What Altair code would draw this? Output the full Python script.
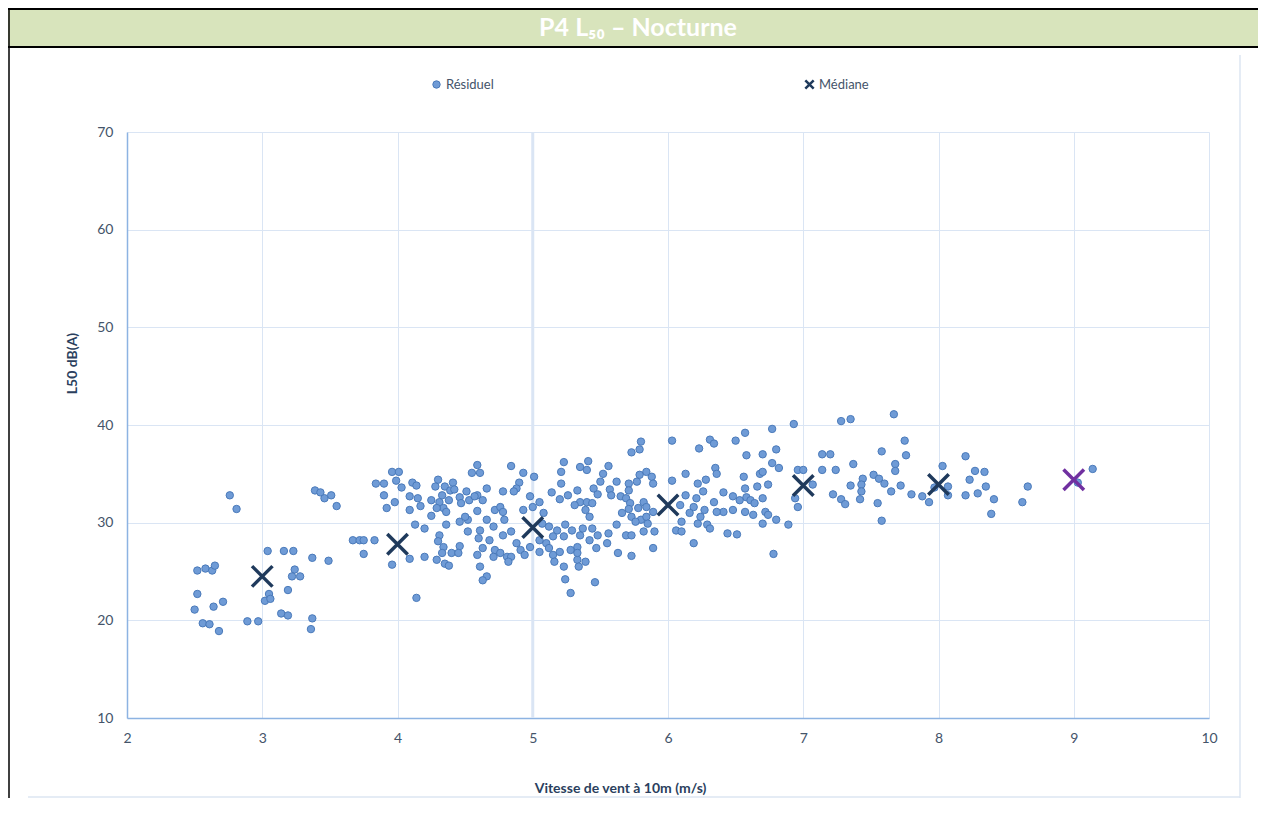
import altair as alt
import pandas as pd

title_text = "P4 L₅₀ – Nocturne"
x_title = "Vitesse de vent à 10m (m/s)"
y_title = "L50 dB(A)"
series_names = ["Résiduel", "Médiane"]
x_ticks = [2, 3, 4, 5, 6, 7, 8, 9, 10]
y_ticks = [10, 20, 30, 40, 50, 60, 70]
bold_grid_x = [5]

res_x = [
    2.76, 2.81, 3.39, 3.43, 3.46, 3.51, 3.55, 3.84, 3.67, 3.72, 3.75, 3.83, 3.75, 3.04, 3.16, 3.23, 3.37, 3.49,
    2.52, 2.58, 2.63, 2.65, 3.24, 3.22, 3.28, 3.19, 3.05, 3.02, 3.06, 2.52, 2.50, 2.64, 2.71, 2.56, 2.61, 2.68,
    2.89, 2.97, 3.14, 3.19, 3.37, 3.36,
    4.59, 4.55, 4.61, 4.84, 3.96, 4.01, 3.99, 3.90, 4.03, 4.11, 4.14, 4.30, 4.28, 4.35, 4.41, 4.39, 4.42, 4.90,
    4.88, 4.86, 4.78, 4.66, 4.59, 4.51, 4.46, 4.53, 4.57, 4.63, 3.90, 3.98, 3.92, 4.09, 4.15, 4.17, 4.09, 4.25,
    4.31, 4.34, 4.38, 4.36, 4.33, 4.29, 4.25, 4.47, 4.59, 4.46, 4.52, 4.50, 4.36, 4.13, 4.20, 4.31, 4.30, 4.34,
    4.33, 4.40, 4.46, 4.45, 4.29, 4.35, 4.38, 4.52, 4.61, 4.60, 4.66, 4.68, 4.63, 4.59, 4.61, 4.66, 4.63, 4.71,
    4.72, 4.76, 4.79, 4.78, 4.72, 4.76, 4.71, 4.81, 4.84, 4.82, 4.78, 4.84, 4.88, 4.91, 3.96, 4.09, 4.20, 4.14,
    6.03, 5.80, 5.79, 5.73, 5.23, 5.41, 5.35, 5.40, 5.56, 5.21, 6.03, 5.84, 5.88, 5.79, 5.89, 5.77, 5.71, 5.62,
    5.52, 5.50, 5.57, 5.45, 5.48, 4.93, 5.01, 5.14, 5.26, 5.20, 5.33, 5.35, 5.40, 5.44, 5.39, 5.31, 5.42, 5.58,
    5.65, 5.71, 5.69, 5.72, 5.66, 5.71, 5.73, 5.78, 5.82, 5.84, 5.80, 5.76, 5.84, 5.89, 5.85, 5.82, 5.90, 5.89,
    5.69, 5.73, 5.62, 5.56, 5.55, 5.48, 5.47, 5.42, 5.35, 5.37, 5.44, 5.29, 5.24, 5.23, 5.18, 5.15, 5.12, 5.10,
    5.12, 5.05, 5.05, 4.98, 4.94, 5.15, 5.16, 5.33, 5.33, 5.39, 5.23, 5.34, 5.24, 5.28, 5.46, 5.63, 5.73, 6.06,
    4.98, 5.05, 5.00, 4.93, 5.08, 5.07, 5.21, 5.20, 5.28, 5.33, 6.09,
    6.93, 7.28, 7.35, 6.77, 6.57, 6.50, 6.31, 6.34, 6.23, 6.80, 6.58, 6.70, 6.77, 6.82, 7.14, 7.20, 7.37, 6.35,
    6.36, 6.13, 6.56, 6.68, 6.70, 6.28, 6.22, 6.96, 7.00, 7.14, 7.24, 6.74, 6.66, 6.57, 6.41, 6.48, 6.26, 6.13,
    6.21, 6.34, 6.53, 6.58, 6.61, 6.70, 6.64, 6.48, 6.41, 6.36, 6.27, 6.19, 6.16, 6.24, 6.10, 6.22, 6.29, 6.31,
    6.10, 6.57, 6.63, 6.72, 6.74, 6.70, 6.80, 6.89, 6.44, 6.51, 6.19, 6.78, 6.94, 6.96, 7.07, 7.22, 7.28, 7.31,
    7.35,
    7.67, 7.75, 7.58, 7.76, 7.68, 7.68, 7.52, 7.56, 7.60, 7.44, 7.43, 7.43, 7.42, 7.72, 7.65, 7.80, 7.55, 7.58,
    7.88, 7.93, 7.97, 8.03, 8.07, 8.07, 8.20, 8.27, 8.34, 8.23, 8.35, 8.29, 8.20, 8.41, 8.39, 8.66, 8.62, 9.03,
    9.14,
]
res_y = [
    32.8, 31.4, 33.3, 33.1, 32.5, 32.8, 31.7, 34.0, 28.2, 28.2, 28.2, 28.2, 26.8, 27.1, 27.1, 27.1, 26.4, 26.1,
    25.1, 25.3, 25.1, 25.6, 25.2, 24.5, 24.5, 23.1, 22.7, 22.0, 22.2, 22.7, 21.1, 21.4, 21.9, 19.7, 19.6, 18.9,
    19.9, 19.9, 20.7, 20.5, 20.2, 19.1,
    35.9, 35.1, 35.1, 35.8, 35.2, 35.2, 34.3, 34.0, 33.6, 34.1, 33.8, 34.4, 33.7, 33.7, 34.1, 33.3, 33.4, 34.1,
    33.5, 33.2, 33.2, 33.5, 32.8, 33.2, 32.6, 32.3, 32.7, 32.3, 32.8, 32.1, 31.5, 32.7, 32.5, 31.7, 31.3, 32.3,
    32.1, 31.5, 32.3, 31.1, 32.8, 31.5, 30.7, 32.0, 31.2, 30.1, 30.3, 30.6, 29.8, 29.8, 29.4, 28.7, 28.1, 27.5,
    26.9, 26.9, 27.6, 26.9, 26.2, 25.8, 25.6, 29.1, 29.2, 28.4, 30.3, 28.2, 27.4, 26.7, 25.5, 24.5, 24.1, 29.6,
    31.3, 31.6, 30.3, 31.1, 27.2, 26.9, 26.5, 26.5, 26.5, 26.0, 28.7, 29.1, 27.9, 27.2, 25.7, 26.3, 26.5, 22.3,
    38.4, 38.3, 37.5, 37.2, 36.2, 36.3, 35.7, 35.4, 35.8, 35.2, 34.3, 35.2, 34.7, 34.9, 34.0, 34.2, 34.0, 34.2,
    35.0, 34.2, 33.4, 33.5, 32.9, 35.1, 34.7, 33.1, 32.8, 32.4, 33.3, 32.1, 32.1, 32.0, 31.3, 31.8, 30.6, 32.8,
    32.7, 33.3, 32.5, 32.0, 31.0, 31.4, 30.6, 31.5, 32.1, 31.6, 30.3, 30.1, 30.6, 31.1, 29.9, 29.1, 29.1, 27.4,
    28.7, 28.7, 29.8, 28.9, 27.9, 28.7, 27.4, 28.2, 28.7, 29.4, 29.4, 29.2, 29.8, 28.6, 29.2, 28.6, 29.6, 27.9,
    27.4, 28.2, 27.0, 27.5, 26.7, 26.7, 26.0, 27.5, 26.2, 26.0, 25.5, 25.5, 24.2, 22.8, 23.9, 26.9, 26.6, 29.2,
    32.7, 32.1, 31.6, 31.3, 31.0, 29.9, 34.0, 27.0, 27.2, 26.9, 31.8,
    40.1, 40.4, 40.6, 39.6, 39.2, 38.4, 38.5, 38.1, 37.6, 37.5, 36.9, 37.0, 36.1, 35.6, 37.0, 37.0, 36.0, 35.6,
    35.0, 35.0, 34.7, 35.0, 35.2, 34.4, 34.0, 35.4, 35.4, 35.4, 35.4, 33.9, 33.7, 33.5, 33.1, 32.7, 33.2, 32.8,
    32.5, 32.1, 32.3, 32.6, 32.3, 32.5, 32.0, 31.3, 31.1, 31.1, 31.3, 31.6, 31.0, 30.6, 30.1, 29.9, 29.8, 29.4,
    29.1, 31.1, 30.8, 31.1, 30.8, 29.9, 30.3, 29.8, 28.9, 28.8, 27.9, 26.8, 32.5, 31.6, 33.9, 32.9, 32.4, 31.9,
    33.8,
    41.1, 38.4, 37.3, 36.9, 36.0, 35.3, 34.9, 34.5, 34.0, 34.5, 33.9, 33.2, 32.4, 33.8, 33.2, 32.9, 32.0, 30.2,
    32.7, 32.1, 33.6, 35.8, 33.7, 32.8, 36.8, 35.3, 35.2, 34.4, 33.7, 33.0, 32.8, 32.4, 30.9, 33.7, 32.1, 34.1,
    35.5,
]

med_x = [3, 4, 5, 6, 7, 8]
med_y = [24.5, 27.8, 29.5, 31.8, 33.8, 33.9]
ext_x = [9]
ext_y = [34.4]

df_res = pd.DataFrame({"x": res_x, "y": res_y, "serie": series_names[0]})
df_med = pd.DataFrame({"x": med_x, "y": med_y, "serie": series_names[1]})
df_ext = pd.DataFrame({"x": ext_x, "y": ext_y})
df_title = pd.DataFrame({"t": [title_text]})
df_bold = pd.DataFrame({"x": bold_grid_x})

FONT = "Lato"
X_PATH = "M-1,-1L1,1M1,-1L-1,1"
RES_FILL = "#6f9bd6"
RES_STROKE = "#4a7aba"
MED_COLOR = "#1f3a5c"
EXT_COLOR = "#7030a0"
GRID = "#dae5f4"
LABEL = "#44546a"
TITLE_C = "#2b3f5e"

leg_common = dict(orient="none", direction="horizontal", title=None, labelFont=FONT,
                  labelFontSize=13, labelColor=LABEL, labelOffset=3)
res_legend = alt.Legend(legendX=303, legendY=-54, symbolType="circle", symbolSize=55,
                        symbolFillColor=RES_FILL, symbolStrokeColor=RES_STROKE,
                        symbolStrokeWidth=1, symbolOpacity=1, **leg_common)
med_legend = alt.Legend(legendX=676, legendY=-54, symbolType=X_PATH, symbolSize=70,
                        symbolStrokeColor=MED_COLOR, symbolStrokeWidth=2.5,
                        symbolOpacity=1, **leg_common)

x_axis = alt.Axis(
    values=x_ticks, title=x_title, grid=True, gridColor=GRID, gridWidth=1,
    domainColor="#8db3e2", domainWidth=1.5, ticks=False, labelFont=FONT, labelFontSize=14,
    labelColor=LABEL, labelPadding=13, labelFlush=False, titleFont=FONT, titleFontSize=14,
    titleFontWeight="bold", titleColor=TITLE_C, titleX=493, titleY=70, titleBaseline="middle",
)
y_axis = alt.Axis(
    values=y_ticks, title=y_title, grid=True, gridColor=GRID, gridWidth=1,
    domainColor="#8db3e2", domainWidth=1.5, ticks=False, labelFont=FONT, labelFontSize=14,
    labelColor=LABEL, labelPadding=14, labelFlush=False, titleFont=FONT, titleFontSize=14,
    titleFontWeight="bold", titleColor=TITLE_C, titleX=-55, titleY=231,
    titleAngle=-90, titleAlign="center", titleBaseline="middle",
)

xs = alt.Scale(domain=[2, 10], nice=False)
ys = alt.Scale(domain=[10, 70], nice=False)

band = alt.Chart(df_title).mark_rect(color="#d8e4bc").encode(
    x=alt.value(-119), x2=alt.value(1131), y=alt.value(-124), y2=alt.value(-85))
title = alt.Chart(df_title).mark_text(
    font=FONT, fontWeight="bold", fontSize=25, color="white", align="center", baseline="middle"
).encode(x=alt.value(511), y=alt.value(-104), text="t:N")
top_line = alt.Chart(df_title).mark_rule(color="black", strokeWidth=2).encode(
    x=alt.value(-119), x2=alt.value(1131), y=alt.value(-123))
head_line = alt.Chart(df_title).mark_rule(color="black", strokeWidth=2).encode(
    x=alt.value(-119), x2=alt.value(1131), y=alt.value(-85))
left_line = alt.Chart(df_title).mark_rule(color="black", strokeWidth=1.5).encode(
    x=alt.value(-118), y=alt.value(-124), y2=alt.value(666))
right_frame = alt.Chart(df_title).mark_rule(color="#dce6f2", strokeWidth=1.5).encode(
    x=alt.value(1113), y=alt.value(-77), y2=alt.value(666))
bottom_frame = alt.Chart(df_title).mark_rule(color="#dce6f2", strokeWidth=1.5).encode(
    x=alt.value(-99), x2=alt.value(1113), y=alt.value(665))

bold_grid = alt.Chart(df_bold).mark_rule(color=GRID, strokeWidth=3).encode(
    x=alt.X("x:Q", scale=xs, axis=x_axis))

res = alt.Chart(df_res).mark_point(filled=True, size=55, stroke=RES_STROKE, strokeWidth=1,
                                   opacity=1, shape="circle").encode(
    x=alt.X("x:Q", scale=xs, axis=x_axis),
    y=alt.Y("y:Q", scale=ys, axis=y_axis),
    color=alt.Color("serie:N", scale=alt.Scale(domain=[series_names[0]], range=[RES_FILL]),
                    legend=res_legend),
)
med = alt.Chart(df_med).mark_point(filled=False, size=420, strokeWidth=3.5, opacity=1,
                                   shape=X_PATH).encode(
    x=alt.X("x:Q", scale=xs, axis=x_axis),
    y=alt.Y("y:Q", scale=ys, axis=y_axis),
    stroke=alt.Stroke("serie:N", scale=alt.Scale(domain=[series_names[1]], range=[MED_COLOR]),
                      legend=med_legend),
)
ext = alt.Chart(df_ext).mark_point(filled=False, size=420, strokeWidth=3.5, opacity=1,
                                   shape=X_PATH, color=EXT_COLOR).encode(
    x=alt.X("x:Q", scale=xs, axis=x_axis),
    y=alt.Y("y:Q", scale=ys, axis=y_axis),
)

chart = alt.layer(band, top_line, head_line, left_line, right_frame, bottom_frame, title,
                  bold_grid, res, med, ext).properties(
    width=1082, height=586,
    autosize=alt.AutoSizeParams(type="none"),
    padding={"left": 119, "top": 124, "right": 49, "bottom": 80},
).resolve_scale(color="independent", stroke="independent").configure_view(stroke=None)

chart.save("out.html", embed_options={"renderer": "svg", "actions": False})
